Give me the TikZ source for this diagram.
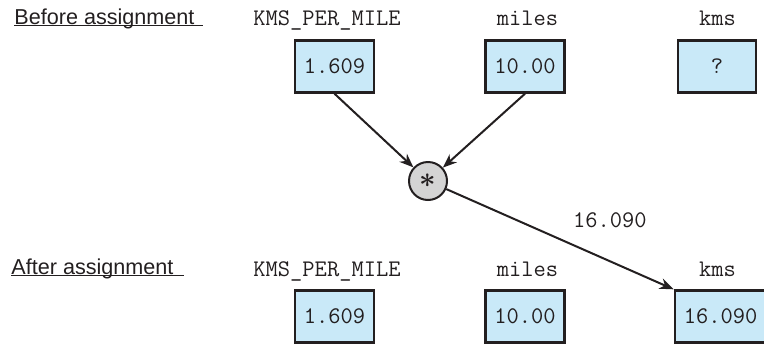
\documentclass[tikz,border=0pt]{standalone}
\usepackage{fontspec}
\setmainfont{Liberation Sans}
\usetikzlibrary{arrows.meta}
\definecolor{ink}{HTML}{231F20}
\definecolor{cellblue}{HTML}{C9E9F8}
\definecolor{opgrey}{HTML}{D4D4D4}

\begin{document}
\begin{tikzpicture}[x=0.5pt, y=-0.5pt,
        varname/.style={font=\ttfamily\fontsize{11.9}{13}\selectfont, text=ink, anchor=base, inner sep=0pt},
        varbox/.style={draw=ink, line width=1.2pt, fill=cellblue, minimum width=39pt, minimum height=26pt,
            inner xsep=4.5pt, font=\ttfamily\fontsize{11.9}{13}\selectfont, text=ink},
        stage/.style={font=\fontsize{10.8}{13}\selectfont, text=ink, anchor=base west, inner sep=0pt},
        opnode/.style={circle, draw=ink, line width=1pt, fill=opgrey, minimum size=19pt, inner sep=0pt, text=ink,
            font=\fontsize{15}{15}\selectfont\boldmath},
        >={Stealth[length=7pt, width=5.5pt]}]
        \useasboundingbox (0,0) rectangle (764,343);

        % before assignment
        \node[stage] (before) at (14,24) {Before assignment};
        \draw [ink, line width=0.6pt] ([yshift=-0.7pt]before.base west) -- ++(189,0);

        \node[varname] (kpmname1) at (327,25) {KMS\_PER\_MILE};
        \node[varname] (milname1) at (527.5,25) {miles};
        \node[varname] (kmsname1) at (717.5,25) {kms};

        \node[varbox] (kpm1) at (334.5,66.5) {1.609};
        \node[varbox] (mil1) at (525,66.5) {10.00};
        \node[varbox] (kms1) at (717,66.5) {?};

        % the multiplication
        \node[opnode] (times) at (428,181) {$\ast$};
        \draw [ink, line width=1pt, ->] (kpm1.south) -- (times);
        \draw [ink, line width=1pt, ->] (mil1.south) -- (times);

        % after assignment
        \node[stage] (after) at (11,274) {After assignment};
        \draw [ink, line width=0.6pt] ([yshift=-0.7pt]after.base west) -- ++(173,0);

        \node[varname] (kpmname2) at (327,276) {KMS\_PER\_MILE};
        \node[varname] (milname2) at (527.5,276) {miles};
        \node[varname] (kmsname2) at (717.5,276) {kms};

        \node[varbox] (kpm2) at (334.5,316.5) {1.609};
        \node[varbox] (mil2) at (525,316.5) {10.00};
        \node[varbox] (kms2) at (720.5,316.5) {16.090};

        \draw [ink, line width=1pt, ->] (times) -- node[pos=0.72, above=16pt, font=\ttfamily\fontsize{11.9}{13}\selectfont, text=ink, inner sep=0pt] (result) {16.090} (kms2.north west);
    \end{tikzpicture}
\end{document}
